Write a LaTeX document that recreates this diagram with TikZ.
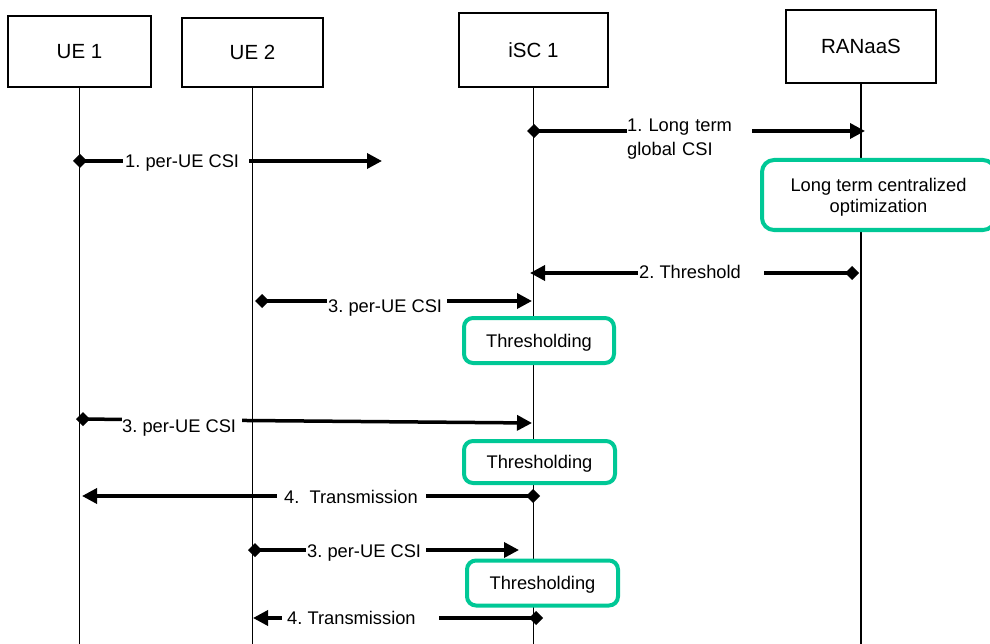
\documentclass[tikz,border=0pt]{standalone}
\usepackage{fontspec}
\setmainfont{Liberation Sans}
\usetikzlibrary{arrows.meta}
\definecolor{optgreen}{RGB}{0,200,150}
\frenchspacing
% blank space that keeps a label's white backing wide
\newcommand{\msggap}[1]{\rule{#1}{0pt}}

\begin{document}
\begin{tikzpicture}[x=1bp, y=-1bp,
  actor/.style={draw, line width=1.6bp, inner sep=0, text depth=0bp,
    font=\fontsize{20.5bp}{24bp}\selectfont},
  life/.style={line width=1.8bp},
  msg/.style={line width=3.5bp,
    {Diamond[length=14bp,width=14bp]}-{Triangle[length=15bp,width=15bp]}},
  lbl/.style={fill=white, inner xsep=0, inner ysep=3bp, anchor=base west,
    font=\fontsize{18.3bp}{24bp}\selectfont},
  task/.style={draw=optgreen, line width=4bp, rounded corners=9bp, fill=white,
    align=center, inner sep=0, text depth=0bp,
    font=\fontsize{18.3bp}{21bp}\selectfont}
]
\useasboundingbox (0,0) rectangle (990,644);
\clip (0,0) rectangle (990,644);

% participants
\node[actor, minimum width=143bp, minimum height=71bp] (ue1) at (79.5,51.5) {UE 1};
\node[actor, minimum width=141bp, minimum height=69bp] (ue2) at (252.5,52.5) {UE 2};
\node[actor, minimum width=149bp, minimum height=74bp] (isc) at (533.5,50) {iSC 1};
\node[actor, minimum width=150bp, minimum height=73bp] (ran) at (861,46.5) {RANaaS};

% lifelines
\coordinate (bottom) at (0,650);
\foreach \p in {ue1,ue2,isc,ran}
  \draw[life] (\p.south) -- (\p.south |- bottom);

% message end points
\coordinate (m1a) at (73,161);   \coordinate (m1b) at (382,161);
\coordinate (m2a) at (527,131);  \coordinate (m2b) at (865,131);
\coordinate (m3a) at (859,273);  \coordinate (m3b) at (530,273);
\coordinate (m4a) at (255,301);  \coordinate (m4b) at (532,301);
\coordinate (m5a) at (76,419);   \coordinate (m5b) at (532,423);
\coordinate (m6a) at (540,496);  \coordinate (m6b) at (82,496);
\coordinate (m7a) at (248,550);  \coordinate (m7b) at (519,550);
\coordinate (m8a) at (543,618);  \coordinate (m8b) at (253,618);

% messages
\draw[msg] (m1a) -- (m1b);
\draw[msg] (m2a) -- (m2b);
\draw[msg] (m3a) -- (m3b);
\draw[msg] (m4a) -- (m4b);
\draw[msg] (m5a) -- (m5b);
\draw[msg] (m6a) -- (m6b);
\draw[msg] (m7a) -- (m7b);
\draw[msg] (m8a) -- (m8b);

% message labels
\node[lbl] (l1) at (123,168) {\msggap{2bp}1. per-UE CSI\msggap{10bp}};
\node[lbl, anchor=north west, inner ysep=0, text width=125bp, align=left] (l2) at (627,119)
  {1. Long term\\global CSI};
\node[lbl] (l3) at (638,279) {\msggap{1bp}2. Threshold\msggap{23bp}};
\node[lbl] (l4) at (327,312) {\msggap{1bp}3. per-UE CSI\msggap{5bp}};
\node[lbl] (l5) at (122,432) {3. per-UE CSI\msggap{6bp}};
\node[lbl] (l6) at (277,503) {\msggap{7bp}4.\ \ Transmission\msggap{8bp}};
\node[lbl] (l7) at (306,557) {\msggap{1bp}3. per-UE CSI\msggap{5bp}};
\node[lbl] (l8) at (282,624) {\msggap{5bp}4. Transmission\msggap{23bp}};

% processing steps
\node[task, rounded corners=12bp, minimum width=233bp, minimum height=70bp] (opt) at (878.5,195)
  {Long term centralized\\optimization};
\node[task, minimum width=150bp, minimum height=45bp] (th1) at (539,340.5) {Thresholding};
\node[task, minimum width=151bp, minimum height=42bp] (th2) at (539.5,462) {Thresholding};
\node[task, minimum width=151bp, minimum height=45bp] (th3) at (542.5,583) {Thresholding};
\end{tikzpicture}
\end{document}
